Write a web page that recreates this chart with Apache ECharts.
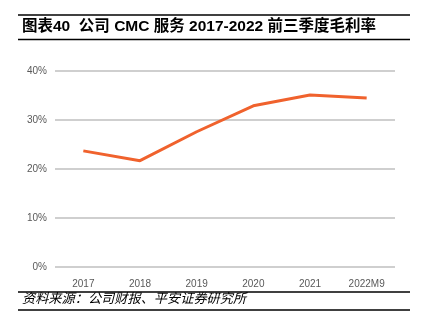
<!DOCTYPE html>
<html><head><meta charset="utf-8">
<script src="https://cdn.jsdelivr.net/npm/echarts@6/dist/echarts.min.js"></script>
<style>html,body{margin:0;padding:0;background:#fff}#c{width:421px;height:325px}</style>
</head><body><div id="c"></div>
<script>
const categories = ['2017','2018','2019','2020','2021','2022M9'];
const margin = [23.7, 21.7, 27.6, 32.9, 35.1, 34.5];
const yTicks = [0, 10, 20, 30, 40];
const titleText = '图表40  公司 CMC 服务 2017-2022 前三季度毛利率';
const sourceText = '资料来源：公司财报、平安证券研究所';

const chart = echarts.init(document.getElementById('c'), null, {renderer:'canvas'});
const font = 'Arial, "Liberation Sans", "Noto Sans CJK SC", sans-serif';
chart.setOption({
  animation: false,
  grid: {left: 55, right: 26, top: 71, bottom: 58},
  xAxis: {
    type: 'category', data: categories, boundaryGap: true,
    axisLine: {show: false}, axisTick: {show: false},
    axisLabel: {color: '#595959', fontSize: 10, fontFamily: font, margin: 12}
  },
  yAxis: {
    type: 'value', min: yTicks[0], max: yTicks[yTicks.length-1], interval: 10,
    axisLine: {show: false}, axisTick: {show: false},
    axisLabel: {color: '#595959', fontSize: 10, fontFamily: font, margin: 8, formatter: v => v + '%'},
    splitLine: {lineStyle: {color: '#bfbfbf', width: 1.5}}
  },
  series: [{
    type: 'line', data: margin, symbol: 'none',
    lineStyle: {color: '#F0622D', width: 3}
  }],
  graphic: [
    {type: 'line', shape: {x1: 18, y1: 15, x2: 410, y2: 15}, style: {stroke: '#000', lineWidth: 1.5}},
    {type: 'text', left: 22, top: 19, style: {text: titleText, font: 'bold 15.5px ' + font, fill: '#000'}},
    {type: 'line', shape: {x1: 18, y1: 39.5, x2: 410, y2: 39.5}, style: {stroke: '#000', lineWidth: 1.5}},
    {type: 'line', shape: {x1: 18, y1: 292, x2: 410, y2: 292}, style: {stroke: '#000', lineWidth: 1.5}},
    {type: 'text', left: 22, top: 293, style: {text: sourceText, font: 'italic 13.2px ' + font, fill: '#000'}},
    {type: 'line', shape: {x1: 18, y1: 310, x2: 410, y2: 310}, style: {stroke: '#000', lineWidth: 1.5}}
  ]
});
</script></body></html>
